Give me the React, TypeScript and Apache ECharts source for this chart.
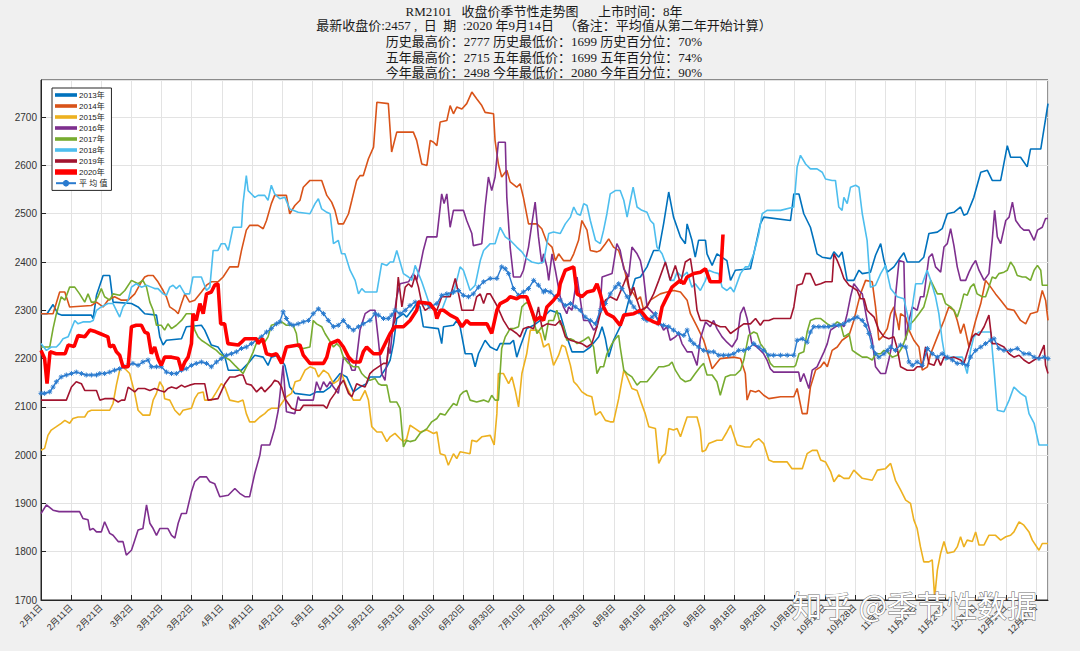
import React, { useEffect, useRef } from "react";
import * as echarts from "echarts";

const xTickLabels = ['2月1日','2月11日','2月21日','3月2日','3月12日','3月22日','4月1日','4月11日','4月21日','5月1日','5月11日','5月21日','5月31日','6月10日','6月20日','6月30日','7月10日','7月20日','7月30日','8月9日','8月19日','8月29日','9月8日','9月18日','9月28日','10月8日','10月18日','10月28日','11月7日','11月17日','11月27日','12月7日','12月17日','12月27日'];

const titleLines = [
  "RM2101   收盘价季节性走势图      上市时间：8年",
  "最新收盘价:2457 ,  日  期  :2020 年9月14日   （备注：平均值从第二年开始计算）",
  "历史最高价：2777 历史最低价：1699 历史百分位：70%",
  "五年最高价：2715 五年最低价：1699 五年百分位：74%",
  "今年最高价：2498 今年最低价：2080 今年百分位：90%",
];
const titleLineY = [11.5, 25, 41.5, 57, 72.5];

const seriesNames = ["2013年", "2014年", "2015年", "2016年", "2017年", "2018年", "2019年", "2020年", "平 均 值"];
const seriesColors = ["#0072BD", "#D95319", "#EDB120", "#7E2F8E", "#77AC30", "#4DBEEE", "#A2142F", "#FF0000", "#2A7BCF"];

// [day index from Feb 1, price]
const s2013 = [[0,2293],[2,2293],[4,2312],[5.6,2293],[7,2290],[16.7,2290],[17.3,2283],[18.4,2331],[20.6,2372],[22.8,2372],[23.9,2317],[30,2314],[32.2,2307],[34.4,2293],[38.3,2290],[39.4,2245],[40.5,2228],[41.6,2238],[46.6,2241],[48.2,2266],[53.2,2269],[54.3,2259],[56.5,2228],[58.7,2224],[61,2203],[62.1,2176],[66.5,2176],[68.7,2190],[70.9,2207],[73.7,2203],[75.3,2186],[76.4,2203],[78.7,2207],[80.9,2186],[82.5,2141],[84.2,2128],
[89.2,2124],[91.4,2131],[93.7,2131],[95.9,2141],[97,2152],[99.2,2169],[101.4,2162],[103.6,2131],[105.8,2141],[108,2148],[109.1,2162],[112.5,2162],[114.7,2183],[115.8,2197],[116.9,2231],[118,2283],[120.2,2293],[121.3,2286],[123,2300],[124.6,2314],[125.7,2307],[126.8,2266],[131.8,2262],[132.9,2231],[133.5,2266],[136.8,2269],[137.9,2279],[139,2266],[140.7,2210],[142.9,2210],[144,2183],[145.1,2210],[147.3,2238],[149,2224],[151.2,2217],[152.3,2231],[155.6,2231],[156.7,2238],[157.8,2203],[158.9,2224],[161.1,2262],[163.4,2269],
[165.6,2279],[168.9,2300],[172.2,2293],[174.4,2245],[176.1,2214],[180,2214],[182.2,2224],[185,2245],[186.1,2266],[187.2,2241],[188.3,2203],[189.9,2238],[192.1,2266],[193.8,2293],[195.5,2334],[197.1,2366],[198.8,2369],[201,2390],[203.2,2424],[204.9,2424],[206.5,2479],[208.2,2545],[209.8,2493],[212.1,2452],[213.7,2438],[214.3,2479],[215.9,2445],[217,2410],[218.1,2445],[220.4,2445],[220.9,2417],[222.6,2393],[224.2,2417],[227.5,2403],[228.7,2362],[230.3,2383],[235.3,2386],[236.4,2417],[238.6,2479],[239.7,2493],[248.6,2486],[249.7,2541],
[251.4,2541],[253,2500],[255.2,2472],[256.3,2445],[257.4,2417],[259.1,2410],[261.9,2407],[263,2421],[264.6,2410],[265.7,2421],[267.4,2362],[269.6,2362],[271.3,2383],[272.4,2376],[275.1,2379],[276.8,2414],[278.5,2438],[279.6,2403],[280.7,2379],[282.9,2390],[285.1,2410],[286.2,2419],[287.3,2400],[291.2,2400],[292.8,2410],[294.5,2459],[297.3,2462],[298.9,2469],[300.6,2500],[302.8,2503],[305,2514],[306.1,2497],[307.2,2500],[309.4,2534],[311.7,2586],[313.9,2590],[315.5,2569],[318.3,2569],[320.5,2641],[321.6,2617],[324.9,2617],[327.1,2597],[328.2,2634],[331.6,2634],[334,2728]];

const s2014 = [[0,2293],[4,2293],[6.2,2338],[7.9,2338],[9.5,2307],[16.7,2310],[18.4,2317],[20.6,2307],[22.2,2321],[24.4,2328],[26.7,2321],[28.9,2321],[31.1,2334],[33.3,2359],[34.4,2369],[35.5,2372],[37.2,2372],[38.8,2359],[40.5,2341],[41.6,2328],[42.7,2307],[44.4,2300],[45.5,2293],[46.6,2314],[47.7,2334],[49.3,2317],[51,2321],[53.2,2338],[54.9,2352],[56.5,2359],[58.7,2359],[60.4,2369],[62.6,2390],[65.4,2390],[66.5,2424],[68.1,2466],[69.2,2476],[72,2476],[73.7,2469],[74.8,2486],[76.4,2521],[77.5,2538],[81.4,2538],[82.5,2500],[84.2,2517],
[85.9,2528],[87,2555],[89.2,2569],[93.1,2569],[94.8,2538],[96.4,2524],[97.5,2507],[98.6,2479],[100.3,2479],[102,2500],[103.1,2528],[104.7,2569],[105.8,2579],[106.9,2579],[108.6,2614],[110.3,2638],[111.4,2731],[115.2,2728],[116.3,2628],[118,2669],[123.5,2669],[124.6,2652],[126.3,2603],[128,2600],[129.1,2652],[130.2,2648],[131.3,2641],[132.4,2690],[134.6,2693],[135.7,2724],[136.8,2707],[137.9,2721],[139.6,2717],[141.2,2728],[142.9,2752],[144.5,2738],[146.2,2724],[147.3,2710],[150.1,2707],[150.6,2652],[151.7,2603],[152.8,2576],[154.5,2590],[155.6,2566],[157.8,2555],[158.9,2562],[160,2534],[161.7,2479],[164.5,2479],[166.1,2469],[167.8,2441],
[169.5,2431],[170.6,2403],[171.7,2417],[173.3,2403],[175.6,2403],[176.7,2417],[178.3,2445],[179.4,2486],[181.1,2466],[182.2,2424],[184.4,2421],[185.5,2424],[187.2,2438],[188.3,2448],[189.9,2431],[191.6,2424],[193.3,2390],[194.9,2348],[196.6,2334],[197.7,2321],[198.8,2328],[199.9,2300],[202.1,2321],[205.4,2334],[207.6,2338],[209.9,2341],[212.1,2338],[214.3,2321],[215.4,2293],[217.6,2266],[219.8,2238],[221.5,2203],[222.6,2179],[225.3,2200],[229.8,2203],[232,2200],[233.6,2169],[234.2,2114],[235.3,2134],[237,2131],[238.1,2134],[239.7,2124],[241.4,2117],[245.3,2121],[249.7,2121],[250.8,2138],
[252.5,2086],[254.1,2086],[255.2,2141],[256.9,2176],[258.6,2183],[259.7,2193],[260.8,2183],[262.4,2217],[264.1,2224],[265.7,2238],[268,2248],[269.6,2279],[270.7,2307],[271.8,2334],[273.5,2362],[275.7,2359],[276.8,2307],[277.9,2238],[279,2245],[280.7,2262],[281.8,2293],[282.9,2307],[284,2279],[284.6,2259],[285.1,2293],[286.8,2286],[287.9,2259],[289.5,2238],[291.2,2224],[292.3,2176],[294,2183],[295.1,2210],[297.3,2245],[299.5,2279],[301.1,2307],[302.8,2300],[303.9,2279],[305,2252],[306.1,2272],[307.8,2224],[308.9,2252],[310,2279],[311.7,2314],[313.3,2362],[315,2348],[316.6,2334],[318.3,2321],[320.5,2303],[322.7,2300],[324.9,2279],[326.6,2272],[328.2,2293],[330.5,2297],[332.1,2341],[333.2,2321],[334,2279]];

const s2015 = [[0,2010],[1.2,2014],[2.3,2041],[3.4,2052],[5.1,2059],[6.7,2066],[7.9,2072],[9.5,2066],[10.6,2076],[12.3,2079],[14.5,2079],[15.6,2090],[16.7,2093],[22.8,2093],[23.9,2107],[25,2145],[26.1,2176],[27.2,2183],[29.4,2169],[31.1,2128],[32.2,2093],[33.8,2083],[36.1,2083],[37.2,2114],[38.3,2128],[39.4,2152],[40.5,2141],[41,2117],[42.7,2114],[44.4,2093],[46,2083],[47.1,2093],[49.9,2097],[51,2117],[52.1,2128],[53.8,2131],[54.3,2114],[56.5,2114],[58.2,2131],[59.8,2148],[61,2141],[62.6,2114],[65.4,2110],[67,2114],[68.1,2086],[69.2,2069],[70.9,2069],[72.6,2079],[74.2,2086],[75.3,2093],[76.4,2097],[78.7,2097],[79.8,2107],[81.4,2121],[83.1,2128],
[84.3,2152],[85.9,2155],[87.6,2176],[89.2,2183],[90.9,2179],[92,2162],[93.7,2176],[95.3,2169],[97,2148],[98.6,2155],[99.7,2169],[101.4,2141],[103.6,2114],[105.8,2114],[107.5,2134],[108.6,2114],[109.7,2059],[111.4,2048],[113,2048],[114.7,2028],[115.8,2038],[117.4,2045],[119.1,2034],[120.2,2028],[121.3,2034],[122.4,2062],[124.1,2055],[125.7,2048],[128,2052],[130.2,2045],[131.3,2048],[132.4,2003],[134,2000],[135.1,1979],[136.8,2003],[137.9,1993],[139,2007],[142.3,2003],[142.9,2031],[144.5,2028],[146.2,2038],[149,2041],[150.3,2021],[151.2,2086],[151.7,2169],[153.4,2169],[155.1,2148],[156.2,2162],[157.3,2134],[158.4,2100],[159.5,2169],[161.1,2210],[162.3,2259],[164.5,2259],
[165.6,2252],[166.7,2224],[168.4,2231],[170,2186],[171.7,2207],[172.8,2228],[173.9,2224],[175.6,2186],[176.7,2152],[177.8,2145],[179.4,2131],[181.1,2124],[182.7,2121],[183.9,2083],[185.5,2090],[187.2,2072],[188.8,2069],[189.9,2069],[191.6,2117],[193.3,2176],[194.4,2162],[196,2138],[197.7,2134],[198.8,2114],[200.4,2086],[201.6,2059],[203.8,2055],[204.9,1983],[206,1997],[207.1,2003],[208.2,2055],[209.8,2052],[211,2055],[212.1,2038],[213.2,2059],[214.3,2079],[217.6,2079],[218.7,2052],[219.3,2007],[220.4,2010],[221.5,2024],[224.2,2031],[225.9,2031],[227.5,2048],[228.7,2062],[230.9,2021],[233.6,2017],[235.3,2017],[236.4,2028],[238.1,2034],[239.7,2024],[241.4,1990],[243,1986],[247.5,1986],[249.1,1972],
[252.5,1972],[254.1,2003],[255.8,2010],[257.4,2010],[258.6,1990],[260.2,1986],[261.9,1966],[263,1945],[264.6,1959],[266.3,1952],[268,1952],[269.6,1969],[272.4,1952],[275.7,1948],[277.4,1969],[280.1,1972],[281.8,1983],[283.4,1948],[285.1,1928],[286.8,1907],[288.4,1900],[289.5,1866],[290.6,1848],[291.7,1810],[292.8,1779],[294.5,1779],[295.6,1783],[296.4,1705],[297.3,1762],[298.4,1797],[299.5,1821],[300.6,1797],[302.8,1800],[303.9,1810],[305,1831],[306.1,1810],[307.2,1824],[308.9,1821],[310,1841],[311.1,1814],[312.8,1814],[314.4,1834],[316.6,1834],[318.3,1824],[320,1831],[321.6,1834],[322.7,1841],[324.4,1862],[326,1855],[327.7,1841],[328.8,1824],[331,1803],[332.1,1817],[334,1817]];

const s2016 = [[0,1879],[1.8,1897],[4,1886],[6,1883],[12.8,1883],[13.9,1869],[15.6,1866],[16.2,1845],[17.3,1848],[18.4,1841],[20,1841],[21.1,1862],[22.8,1838],[23.9,1834],[25.6,1821],[27.2,1821],[28.3,1793],[30,1803],[31.1,1824],[32.2,1845],[33.8,1848],[35,1897],[36.1,1859],[37.2,1848],[38.3,1834],[39.4,1848],[42.1,1848],[43.3,1834],[44.4,1828],[45.5,1859],[46.6,1879],[48.2,1879],[49.9,1924],[51,1945],[52.7,1955],[54.9,1955],[56,1945],[57.6,1941],[59.3,1914],[62.1,1917],[64.3,1931],[65.9,1921],[67.6,1914],[69.2,1914],[70.9,1962],[72.6,2000],[73.1,2021],[75.9,2021],[77.5,2055],[78.7,2093],[80.3,2186],[81.4,2090],[84.2,2086],[85.3,2121],
[85.9,2114],[90.3,2114],[91.4,2152],[92.6,2134],[93.7,2152],[94.8,2141],[95.9,2152],[97,2141],[98.6,2128],[99.7,2169],[100.3,2203],[102,2197],[103.1,2176],[104.2,2176],[105.8,2259],[107.5,2293],[109.1,2300],[110.8,2300],[111.9,2238],[113,2169],[114.1,2155],[115.2,2224],[115.8,2210],[116.9,2279],[118,2328],[119.1,2355],[121.9,2359],[123.5,2376],[124.6,2362],[125.7,2390],[126.8,2424],[128,2452],[131.3,2452],[132.9,2541],[133.7,2521],[134.6,2541],[135.7,2472],[136.8,2507],[140.1,2507],[141.2,2486],[142.9,2459],[143.4,2434],[146.2,2438],[147.3,2514],[148.4,2576],[149.5,2548],[150.6,2576],[151.7,2648],[154,2648],[154.5,2534],[155.6,2431],[156.7,2369],[159,2369],[160,2383],[161.7,2431],[162.8,2479],[163.9,2524],[165,2452],[166.1,2397],[166.7,2417],[167.8,2390],[168.4,2362],
[169.5,2417],[170.6,2383],[172.2,2328],[173.3,2307],[174.4,2293],[175,2307],[176.1,2300],[177.8,2369],[179.4,2300],[180,2279],[181.6,2279],[183.3,2259],[184.4,2266],[185.5,2307],[186.1,2369],[189.4,2376],[191,2438],[192.1,2424],[193.3,2386],[194.9,2369],[196,2431],[197.7,2417],[198.8,2403],[199.9,2369],[201,2307],[203.2,2293],[204.9,2279],[206.5,2259],[207.6,2266],[208.7,2238],[210.4,2245],[211.5,2252],[212.6,2231],[214.3,2214],[215.9,2214],[217.6,2186],[218.7,2241],[220.4,2276],[222,2266],[223.1,2279],[224.2,2262],[225.9,2245],[227.5,2234],[229.2,2224],[230.9,2241],[232,2293],[233.1,2307],[234.2,2283],[235.8,2231],[237.5,2224],[239.7,2210],[240.8,2197],[241.9,2179],[243,2172],[251.3,2172],[251.9,2152],
[253,2169],[254.7,2138],[255.8,2176],[257.4,2183],[259.7,2214],[260.8,2231],[261.9,2259],[263.5,2266],[265.2,2272],[266.3,2266],[267.4,2293],[268.5,2328],[269.6,2355],[271.3,2341],[272.4,2334],[274,2279],[275.7,2238],[276.8,2183],[278.5,2169],[280.1,2169],[281.2,2197],[282.3,2231],[283.4,2328],[284.6,2403],[286.2,2400],[286.8,2238],[287.9,2279],[289,2307],[290.6,2300],[291.7,2328],[292.8,2328],[294.5,2410],[295.6,2417],[296.7,2390],[298.4,2379],[299.5,2431],[300.6,2438],[301.7,2469],[302.8,2434],[303.9,2390],[305,2362],[306.7,2362],[307.8,2379],[308.9,2393],[310,2403],[311.1,2383],[312.8,2362],[314.4,2376],[315.5,2445],[316.3,2507],[317.2,2452],[318.3,2438],[320,2486],[321.1,2493],[322.2,2524],[323.3,2486],[324.9,2472],[326,2466],[327.7,2466],[329.4,2445],[330.5,2466],[332.1,2472],[333.2,2490],[334,2490]];

const s2017 = [[0,2224],[2.9,2224],[4,2262],[5.1,2293],[6.7,2328],[7.9,2321],[9.5,2348],[11.2,2348],[12.8,2334],[14.5,2317],[15.6,2334],[16.7,2317],[17.8,2317],[18.9,2328],[20,2345],[21.1,2328],[22.8,2321],[23.9,2334],[26.1,2331],[27.8,2341],[30,2362],[32.2,2355],[33.8,2362],[35,2348],[36.1,2317],[37.2,2300],[38.3,2269],[39.9,2269],[41,2259],[42.1,2272],[43.3,2262],[44.9,2269],[46.6,2279],[48.2,2293],[49.9,2293],[51,2259],[52.1,2245],[53.2,2238],[54.9,2231],[56.5,2224],[58.2,2217],[59.3,2210],[61,2203],[62.6,2197],[64.3,2186],[65.9,2176],[67,2169],[68.7,2190],[70.4,2214],[72,2241],[73.1,2245],[74.2,2234],[75.3,2245],[76.4,2269],[78.1,2272],[79.8,2276],[81.4,2269],[83.6,2269],[84.7,2252],[85.3,2224],
[87,2221],[89.2,2224],[90.3,2279],[91.4,2272],[93.1,2266],[94.2,2252],[95.3,2241],[97,2224],[98.1,2231],[99.2,2224],[100.3,2203],[102,2190],[103.6,2183],[105.3,2183],[106.4,2169],[107.5,2162],[109.1,2155],[110.8,2159],[111.9,2148],[113,2145],[114.7,2145],[115.8,2110],[118,2110],[119.1,2097],[120.2,2017],[121.3,2031],[122.4,2028],[124.1,2031],[125.7,2045],[128,2055],[129.6,2069],[131.3,2076],[132.4,2086],[134,2083],[135.1,2093],[136.8,2107],[137.9,2103],[139,2124],[140.1,2131],[141.2,2134],[142.3,2114],[144.5,2110],[146.8,2114],[148.4,2110],[149.5,2124],[150.6,2114],[151.7,2114],[152.8,2221],[154,2245],[155.6,2262],[156.7,2262],[158.4,2266],[159.5,2307],[160.6,2314],[161.7,2317],[162.8,2293],[164.5,2252],[166.1,2266],[167.2,2238],
[168.4,2279],[170,2279],[171.1,2300],[172.2,2272],[173.3,2266],[174.4,2238],[175.6,2241],[176.7,2238],[177.8,2231],[180,2238],[181.6,2245],[183.3,2224],[184.4,2169],[185.5,2183],[186.6,2183],[187.7,2210],[189.4,2231],[190.5,2241],[191.6,2248],[192.1,2224],[193.3,2176],[194.4,2169],[196,2162],[197.7,2145],[198.8,2152],[201,2152],[203.2,2169],[204.9,2183],[206.5,2183],[208.2,2186],[209.3,2193],[210.4,2176],[212.1,2159],[213.7,2152],[215.4,2155],[217,2169],[218.7,2183],[219.8,2190],[220.9,2166],[222.6,2166],[224.2,2152],[225.3,2124],[227,2162],[228.7,2166],[230.3,2166],[232,2176],[233.1,2197],[234.7,2248],[236.4,2255],[237.5,2252],[238.6,2231],[240.3,2217],[241.9,2190],[243,2183],[249.7,2183],
[250.3,2186],[251.4,2210],[253,2214],[254.1,2255],[255.2,2279],[256.9,2283],[258.6,2283],[260.8,2272],[262.4,2266],[264.1,2276],[265.2,2272],[266.3,2245],[268,2252],[269.1,2217],[270.7,2210],[272.4,2203],[274,2203],[275.7,2197],[276.8,2210],[278.5,2210],[279.6,2217],[280.7,2214],[282.3,2203],[284,2207],[285.7,2224],[287.3,2252],[288.4,2272],[289.5,2279],[291.2,2293],[292.8,2307],[294,2334],[295.1,2362],[296.2,2348],[297.3,2334],[298.9,2334],[300,2314],[301.7,2307],[302.8,2300],[303.9,2286],[305,2307],[306.1,2334],[307.2,2331],[308.3,2348],[309.4,2355],[310.5,2334],[312.2,2328],[313.3,2328],[314.4,2348],[315.5,2369],[316.6,2366],[317.7,2376],[319.4,2379],[320.5,2383],[321.6,2400],[322.7,2390],[323.8,2372],[325.5,2369],[326.6,2369],[328.2,2362],[329.4,2383],[330.5,2393],[331.6,2383],[332.1,2352],[334,2352]];

const s2018 = [[0,2231],[1.8,2217],[3.4,2224],[5.1,2224],[6.2,2231],[7.3,2241],[9,2245],[10.1,2262],[11.2,2279],[12.3,2272],[13.9,2276],[16.2,2276],[17.3,2279],[18.4,2300],[20,2307],[22.2,2314],[23.9,2314],[25,2300],[26.1,2286],[27.2,2307],[28.9,2321],[30,2348],[31.6,2355],[33.3,2348],[35,2352],[36.6,2348],[37.7,2345],[38.8,2345],[40.5,2334],[41.6,2331],[42.7,2348],[43.8,2352],[44.9,2345],[46,2352],[47.7,2334],[49.3,2334],[50.4,2369],[53.2,2369],[54.9,2341],[56,2348],[57.1,2424],[58.7,2424],[59.8,2438],[61,2438],[62.1,2424],[63.7,2472],[66.5,2472],[67,2521],[68.1,2579],[68.7,2548],[69.8,2541],[70.9,2534],[72,2538],[74.2,2538],[75.3,2528],[76.4,2559],[77.5,2541],[79.2,2531],[80.9,2534],[82.5,2510],[83.6,2507],[85.3,2503],
[89.2,2500],[90.9,2521],[92,2531],[93.1,2510],[94.8,2503],[95.9,2500],[97,2438],[98.6,2445],[99.7,2417],[100.8,2417],[102.5,2383],[104.2,2362],[105.3,2334],[106.4,2345],[107.5,2338],[111.4,2338],[113,2397],[114.7,2393],[115.8,2400],[116.9,2400],[118,2424],[119.1,2400],[120.2,2376],[121.9,2369],[123,2362],[124.1,2393],[125.2,2376],[126.3,2359],[128,2328],[129.1,2307],[131.3,2300],[132.9,2300],[134.6,2328],[135.7,2334],[136.8,2334],[139,2390],[140.1,2383],[141.2,2362],[142.3,2341],[144,2352],[145.7,2403],[146.8,2424],[149,2438],[150.6,2438],[152.3,2472],[154,2452],[155.6,2445],[157.8,2431],[159.5,2421],[161.1,2407],[162.8,2400],[165,2397],[166.7,2400],
[168.4,2459],[170,2462],[172.2,2459],[173.9,2479],[175.6,2493],[176.7,2514],[177.8,2500],[178.9,2497],[180,2521],[181.1,2517],[182.2,2486],[183.9,2445],[185.5,2438],[186.6,2466],[187.7,2500],[188.8,2541],[190.5,2548],[192.1,2548],[193.3,2528],[194.4,2493],[195.5,2528],[196.4,2555],[197.7,2514],[199.3,2507],[201,2503],[202.1,2486],[203.2,2479],[204.3,2431],[206,2417],[207.6,2390],[208.7,2362],[209.9,2362],[211,2379],[212.6,2369],[214.3,2379],[215.9,2348],[217,2355],[218.7,2341],[220.4,2362],[221.5,2383],[223.1,2379],[224.8,2376],[225.9,2348],[227.5,2341],[228.7,2348],[229.8,2338],[232,2376],[233.6,2390],[234.7,2390],[236.4,2417],[238.1,2459],[239.2,2500],[240.8,2507],[245.3,2507],[249.7,2514],[250.8,2597],[251.9,2621],
[253.6,2603],[255.2,2593],[257.4,2593],[259.1,2586],[260.2,2572],[262.4,2569],[263.5,2569],[264.6,2514],[265.7,2507],[266.3,2534],[267.4,2521],[268.5,2555],[270.2,2559],[271.3,2555],[272.4,2500],[274,2445],[275.1,2348],[276.8,2352],[278.5,2376],[280.1,2393],[281.8,2345],[284,2328],[286.2,2324],[287.3,2293],[288.4,2259],[289,2307],[290.1,2355],[292.3,2355],[293.9,2383],[295.1,2362],[296.7,2328],[297.8,2293],[298.9,2238],[300,2197],[301.7,2203],[303.9,2203],[305.6,2203],[307.2,2169],[308.3,2217],[309.4,2245],[311.1,2255],[315,2255],[316.1,2176],[317.2,2093],[319.4,2090],[321.1,2114],[322.7,2141],[324.9,2128],[326.6,2121],[327.7,2086],[329.4,2066],[331,2021],[334,2021]];

const s2019 = [[0,2114],[8.4,2114],[10.1,2141],[11.7,2152],[13.4,2148],[14.5,2134],[18.4,2134],[19.5,2114],[21.1,2117],[23.9,2117],[25.6,2110],[26.7,2114],[27.8,2114],[28.9,2141],[31.1,2131],[32.2,2138],[34.4,2138],[36.1,2134],[37.7,2138],[39.4,2134],[41,2131],[42.1,2138],[43.3,2141],[44.9,2138],[46.6,2145],[47.7,2141],[49.3,2145],[51,2148],[54.3,2148],[55.4,2114],[58.7,2117],[61,2148],[62.6,2162],[64.3,2162],[65.9,2166],[67,2166],[68.1,2148],[69.8,2145],[71.5,2131],[73.1,2141],[74.2,2131],[76.4,2145],[77.5,2155],[78.7,2152],[79.8,2141],[80.9,2117],[82,2107],[83.1,2097],[84.7,2093],
[85.9,2093],[87,2103],[93.7,2103],[94.8,2097],[95.9,2114],[97.5,2128],[98.6,2141],[100.3,2155],[102,2128],[103.1,2121],[104.7,2148],[105.8,2145],[107.5,2141],[109.1,2169],[110.3,2176],[111.9,2183],[113.6,2190],[114.7,2190],[115.8,2252],[117.4,2279],[118.5,2369],[119.7,2307],[120.8,2348],[121.9,2355],[123,2348],[124.1,2372],[125.2,2348],[126.3,2314],[127.4,2300],[129.1,2307],[131.3,2300],[132.9,2328],[135.7,2328],[137.4,2366],[138.5,2334],[139.6,2300],[143.4,2300],[144.5,2328],[145.7,2334],[146.8,2314],[147.9,2334],[149,2334],[151.2,2310],[153.4,2279],[155.1,2262],[156.2,2259],[157.8,2252],[158.9,2245],[160,2262],[161.7,2266],[163.4,2262],[165,2307],[166.1,2266],
[167.8,2272],[170.6,2269],[172.2,2279],[173.9,2245],[175.6,2238],[177.8,2234],[179.4,2231],[181.1,2224],[182.7,2231],[184.4,2266],[185.5,2293],[187.2,2321],[188.8,2328],[191,2321],[193.3,2355],[194.4,2372],[195.5,2331],[196.6,2348],[197.7,2321],[198.8,2300],[201,2307],[203.2,2334],[204.9,2362],[207.1,2400],[208.7,2362],[210.4,2393],[212.1,2355],[213.7,2400],[215.4,2407],[216.5,2362],[217.6,2300],[218.7,2279],[220.9,2279],[223.1,2272],[225.3,2266],[227,2266],[228.7,2252],[230.9,2262],[233.1,2272],[235.3,2272],[237,2283],[238.6,2269],[239.7,2279],[241.4,2279],[243,2283],[248.6,2283],[249.7,2307],[250.8,2352],
[252.5,2355],[253.6,2376],[255.2,2376],[256.9,2352],[258.6,2355],[260.2,2359],[262.4,2359],[263,2417],[264.1,2403],[265.2,2386],[266.3,2366],[268,2352],[269.1,2348],[270.7,2341],[271.8,2324],[273,2324],[274,2300],[275.1,2293],[276.3,2286],[277.9,2259],[279.6,2245],[281.2,2241],[282.9,2245],[284,2221],[285.1,2183],[287.3,2176],[289.5,2176],[290.6,2183],[292.3,2183],[293.4,2224],[294.5,2190],[296.2,2186],[297.3,2203],[298.4,2186],[299.5,2203],[301.1,2200],[302.8,2203],[305,2197],[306.1,2190],[307.8,2224],[308.9,2245],[310,2252],[311.1,2248],[312.8,2266],[314.4,2290],[315.5,2231],[317.2,2231],[319.4,2224],[321.1,2210],[322.7,2203],[324.4,2207],[326,2197],[327.7,2190],[329.4,2197],[331,2203],[332.7,2228],[333.2,2186],[334,2169]];

const s2020 = [[0,2217],[1.2,2200],[2,2148],[3,2214],[5,2210],[8,2210],[9,2228],[11,2225],[12.3,2248],[14.5,2245],[16.2,2259],[18,2256],[19.5,2252],[21,2248],[22.2,2245],[22.8,2224],[24,2228],[25,2214],[26.1,2207],[27.2,2183],[28.9,2183],[30,2266],[31.6,2269],[33.3,2269],[34.4,2255],[35.5,2252],[36.6,2210],[37.7,2224],[38.8,2200],[39.9,2186],[41,2203],[43.3,2203],[45.5,2200],[46.6,2176],[47.7,2193],[48.8,2203],[49.9,2231],[50.4,2293],[51.5,2279],[52.7,2314],[53.8,2293],[54.9,2334],[56.5,2338],[57.6,2352],[58.7,2355],[59.6,2272],[60.9,2272],[62,2231],[65.4,2228],[66.5,2234],[67.6,2241],[71.5,2241],[72,2231],[73.5,2241],[74.8,2210],[76.5,2207],[78.1,2210],[79.8,2190],[81.4,2224],[85.3,2228],
[85.9,2228],[87,2207],[89.2,2190],[93.7,2190],[94.8,2203],[95.9,2231],[98.6,2238],[100.3,2224],[102,2203],[103.6,2193],[105.8,2193],[106.9,2214],[108,2224],[109.1,2217],[110.3,2210],[112.5,2210],[114.7,2238],[115.8,2252],[117.4,2266],[120.2,2266],[122.4,2279],[124.6,2300],[125.2,2317],[129,2314],[130.7,2300],[131.3,2283],[132.4,2300],[133.5,2300],[135.7,2290],[137.9,2283],[139.6,2266],[141.2,2279],[142.3,2272],[147.9,2272],[149.5,2252],[151.2,2300],[152.3,2314],[154.5,2321],[155.6,2328],[157.8,2324],[158.9,2328],[161.1,2328],[162.3,2307],[163.9,2279],
[165.6,2286],[166.7,2279],[167.8,2307],[170,2321],[171.7,2334],[172.2,2355],[173.9,2383],[176.7,2390],[177.8,2334],[179.4,2328],[181.1,2338],[183.3,2341],[184.4,2355],[185.5,2334],[186.6,2307],[187.7,2293],[189.9,2286],[192.1,2269],[193.3,2290],[196.6,2293],[198.8,2300],[201,2283],[203.2,2276],[204.9,2272],[206,2307],[207.1,2321],[209.3,2348],[212,2362],[213.2,2355],[214.3,2369],[216.5,2376],[218.7,2379],[220.4,2386],[222,2359],[225.3,2359],[226.2,2457]];

const sAvg = [[0,2128],[1.2,2128],[2.9,2131],[4,2141],[5.1,2152],[6.7,2162],[8.4,2166],[10.1,2169],[11.7,2172],[13.4,2169],[15,2166],[16.7,2166],[18.4,2166],[19.5,2169],[21.1,2169],[22.8,2172],[24.4,2176],[26.1,2179],[27.8,2183],[28.9,2186],[30.5,2190],[32.2,2186],[33.8,2193],[35.5,2197],[36.6,2183],[38.3,2183],[39.9,2183],[41.6,2172],[43.3,2169],[44.9,2169],[46.6,2176],[48.2,2179],[49.9,2186],[51.5,2190],[53.2,2193],[54.9,2190],[56.5,2183],[58.2,2193],[59.8,2200],[61.5,2207],[63.2,2210],[64.8,2214],[66.5,2221],[68.1,2224],[69.8,2231],[71.5,2238],[73.1,2245],[74.8,2255],[76.4,2262],[78.1,2272],[79.2,2276],[80.3,2297],[81.4,2283],[82.5,2272],[83.6,2269],[85.3,2272],
[87,2276],[88.7,2279],[90.3,2293],[92,2303],[93.7,2293],[95.3,2279],[97,2266],[98.6,2269],[100.3,2279],[102,2266],[103.6,2259],[105.3,2266],[106.9,2272],[109.1,2279],[110.8,2293],[111.9,2290],[113.6,2283],[115.2,2283],[116.3,2290],[117.4,2300],[119.1,2293],[120.8,2300],[122.4,2310],[124.1,2317],[125.7,2317],[127.4,2314],[129,2307],[131.3,2314],[132.9,2331],[134.6,2334],[136.8,2338],[138.5,2341],[140.1,2331],[141.8,2328],[143.4,2334],[145.1,2348],[146.8,2359],[149,2366],[151.2,2366],[152.8,2390],[154,2386],[155.1,2376],[156.7,2345],[158.4,2331],[160,2338],[161.7,2345],[163.4,2362],[165,2352],[166.7,2338],
[167.3,2341],[168.9,2338],[170.6,2328],[172.2,2321],[173.9,2310],[175.6,2314],[177.2,2307],[178.9,2300],[180.5,2286],[182.2,2279],[183.9,2272],[185.5,2300],[187.2,2314],[188.8,2334],[190.5,2348],[191.6,2355],[192.7,2345],[194.4,2328],[195.5,2317],[196.6,2307],[198.2,2297],[199.9,2283],[201,2279],[202.7,2286],[203.8,2293],[204.9,2272],[206.5,2269],[208.2,2266],[209.8,2259],[211.5,2252],[213.2,2248],[214.3,2259],[215.4,2238],[216.5,2231],[218.1,2224],[219.8,2217],[221.5,2214],[223.1,2214],[224.8,2207],[226.4,2207],[228.1,2207],[229.8,2210],[231.4,2217],[233.1,2217],[234.7,2221],[236.4,2231],[238.1,2224],[239.7,2217],[241.4,2207],[243,2207],[245.3,2207],[247.5,2207],[249.7,2207],[250.8,2238],
[252.5,2241],[254.1,2234],[255.2,2255],[256.3,2266],[258,2266],[259.7,2266],[261.3,2266],[263,2269],[264.6,2269],[266.3,2272],[268,2279],[269.6,2283],[270.7,2286],[272.4,2279],[273.5,2269],[274.6,2252],[275.7,2224],[276.8,2210],[277.9,2203],[279.6,2210],[280.7,2217],[281.8,2224],[283.4,2217],[285.1,2228],[286.8,2224],[287.9,2193],[289,2186],[290.6,2193],[292.3,2186],[294,2221],[295.6,2210],[297.3,2203],[298.9,2210],[300.6,2203],[302.3,2197],[303.9,2190],[305.6,2190],[307.2,2186],[308.3,2203],[310,2217],[311.7,2224],[313.3,2231],[315,2238],[316.1,2241],[317.7,2221],[319.4,2217],[321.6,2217],[323.8,2221],[326,2210],[327.7,2210],[329.4,2203],[331,2200],[332.7,2203],[334,2200]];

const seriesData = [s2013, s2014, s2015, s2016, s2017, s2018, s2019, s2020, sAvg];

const starPath = "path://M5,0L5,10M0,5L10,5M1.5,1.5L8.5,8.5M1.5,8.5L8.5,1.5";
const thinLineIcon = "path://M0,0L20,0L20,1.6L0,1.6Z";
const thickLineIcon = "path://M0,0L20,0L20,3.6L0,3.6Z";

export default function App() {
  const ref = useRef<HTMLDivElement>(null);
  useEffect(() => {
    if (!ref.current) return;
    const chart = echarts.init(ref.current, null, { renderer: "svg" });
    const order = [0, 1, 2, 3, 4, 5, 6, 8, 7];
    const series = order.map((i) => {
      const isAvg = i === 8;
      const is2020 = i === 7;
      return {
        name: seriesNames[i],
        type: "line",
        data: seriesData[i],
        symbol: isAvg ? starPath : "none",
        symbolSize: 5,
        showSymbol: isAvg,
        symbolKeepAspect: true,
        lineStyle: { color: seriesColors[i], width: is2020 ? 3.6 : isAvg ? 1.4 : 1.6 },
        itemStyle: { color: seriesColors[i], borderColor: seriesColors[i], borderWidth: 1 },
        z: is2020 ? 5 : 2,
        silent: true,
      };
    });
    const legendData = seriesNames.map((n, i) =>
      i === 8 ? { name: n } : { name: n, icon: i === 7 ? thickLineIcon : thinLineIcon }
    );
    chart.setOption({
      animation: false,
      backgroundColor: "#f0f0f0",
      grid: {
        left: 41, top: 80, right: 32, bottom: 51,
        show: true, backgroundColor: "#ffffff", borderColor: "#262626", borderWidth: 1,
      },
      legend: {
        data: legendData,
        orient: "vertical",
        left: 52, top: 88,
        itemWidth: 20, itemHeight: 8, itemGap: 3,
        padding: [3, 4, 3, 3],
        backgroundColor: "#ffffff",
        borderColor: "#262626", borderWidth: 1,
        borderRadius: 0,
        selectedMode: false,
        textStyle: { fontSize: 8, color: "#222", fontFamily: "Liberation Sans, Noto Sans CJK SC", lineHeight: 8, padding: [0, 0, 0, -2] },
      },
      xAxis: {
        type: "value",
        min: 0, max: 334, interval: 10,
        axisLine: { show: true, lineStyle: { color: "#262626" } },
        axisTick: { show: true, inside: true, length: 5, lineStyle: { color: "#262626" } },
        splitLine: { show: true, lineStyle: { color: "#e3e3e3", width: 1 } },
        axisLabel: {
          rotate: 45, fontSize: 9, color: "#333", margin: 6,
          fontFamily: "Liberation Sans, Noto Sans CJK SC",
          showMaxLabel: false,
          formatter: (v: number) => {
            const k = Math.round(v / 10);
            return Math.abs(v - k * 10) < 0.01 && xTickLabels[k] ? xTickLabels[k] : "";
          },
        },
      },
      yAxis: {
        type: "value",
        min: 1700, max: 2777, interval: 100,
        axisLine: { show: true, lineStyle: { color: "#262626" } },
        axisTick: { show: true, inside: true, length: 5, lineStyle: { color: "#262626" } },
        splitLine: { show: true, lineStyle: { color: "#e3e3e3", width: 1 } },
        axisLabel: {
          fontSize: 10, color: "#333", margin: 4, showMaxLabel: false,
          fontFamily: "Liberation Sans, Noto Sans",
          formatter: (v: number) => String(Math.round(v)),
        },
      },
      graphic: [
        ...titleLines.map((t, i) => ({
          type: "text",
          x: 544,
          y: titleLineY[i],
          z: 10,
          style: {
            text: t,
            align: "center",
            verticalAlign: "middle",
            fill: "#1a1a1a",
            font: "13px 'Liberation Serif', 'Noto Sans CJK SC'",
          },
        })),
        {
          type: "text",
          x: 792,
          y: 604,
          z: 100,
          style: {
            text: "知乎 @季节性数据",
            verticalAlign: "middle",
            align: "left",
            fill: "#ffffff",
            stroke: "#6e6e6e",
            lineWidth: 1,
            font: "30px 'Noto Sans CJK SC'",
            shadowColor: "rgba(0,0,0,0.45)",
            shadowOffsetX: 1.5,
            shadowOffsetY: 1.5,
            shadowBlur: 1,
          },
        },
      ],
      series,
    });
    return () => chart.dispose();
  }, []);
  return <div ref={ref} style={{ position: "fixed", left: 0, top: 0, width: 1080, height: 651 }} />;
}
